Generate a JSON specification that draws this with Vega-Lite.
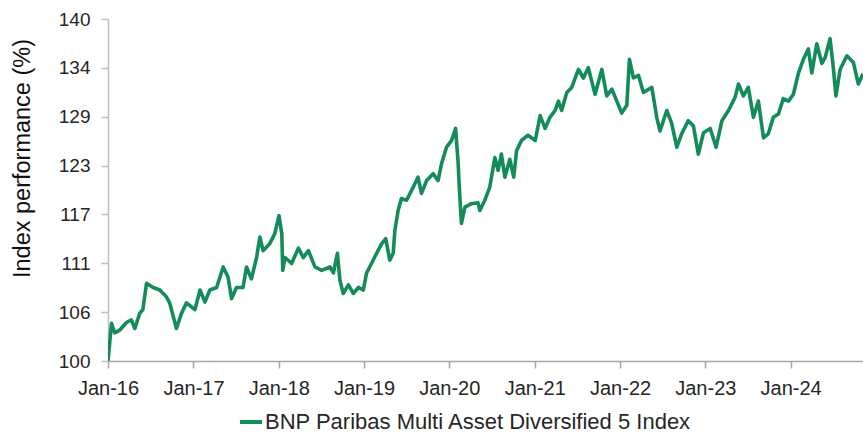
{
  "$schema": "https://vega.github.io/schema/vega-lite/v6.json",
  "width": 755,
  "height": 342,
  "autosize": {"type": "none"},
  "padding": {"left": 108, "top": 19, "right": 0, "bottom": 73},
  "background": "white",
  "config": {"view": {"stroke": null}, "font": "Liberation Sans"},
  "data": {"values": [
    {"date": "2016-01-01", "v": 100},
    {"date": "2016-01-16", "v": 104.4},
    {"date": "2016-01-30", "v": 103.3},
    {"date": "2016-02-20", "v": 103.6},
    {"date": "2016-03-20", "v": 104.5},
    {"date": "2016-04-10", "v": 104.8},
    {"date": "2016-04-25", "v": 103.8},
    {"date": "2016-05-16", "v": 105.6},
    {"date": "2016-05-29", "v": 106},
    {"date": "2016-06-14", "v": 109.1},
    {"date": "2016-07-12", "v": 108.6},
    {"date": "2016-08-10", "v": 108.3},
    {"date": "2016-09-07", "v": 107.5},
    {"date": "2016-09-21", "v": 106.8},
    {"date": "2016-10-20", "v": 103.8},
    {"date": "2016-11-11", "v": 105.6},
    {"date": "2016-12-02", "v": 106.8},
    {"date": "2017-01-07", "v": 106},
    {"date": "2017-01-29", "v": 108.3},
    {"date": "2017-02-19", "v": 106.9},
    {"date": "2017-03-12", "v": 108.3},
    {"date": "2017-04-10", "v": 108.6},
    {"date": "2017-05-08", "v": 111},
    {"date": "2017-05-29", "v": 109.8},
    {"date": "2017-06-13", "v": 107.3},
    {"date": "2017-07-04", "v": 108.6},
    {"date": "2017-08-01", "v": 108.6},
    {"date": "2017-08-16", "v": 111},
    {"date": "2017-09-06", "v": 109.6},
    {"date": "2017-09-28", "v": 112.1},
    {"date": "2017-10-12", "v": 114.5},
    {"date": "2017-10-26", "v": 112.9},
    {"date": "2017-11-23", "v": 113.7},
    {"date": "2017-12-15", "v": 114.9},
    {"date": "2018-01-02", "v": 117},
    {"date": "2018-01-14", "v": 114.9},
    {"date": "2018-01-18", "v": 110.6},
    {"date": "2018-01-28", "v": 112.1},
    {"date": "2018-02-25", "v": 111.4},
    {"date": "2018-03-26", "v": 113.2},
    {"date": "2018-04-16", "v": 112.1},
    {"date": "2018-05-08", "v": 112.9},
    {"date": "2018-06-05", "v": 111},
    {"date": "2018-07-04", "v": 110.6},
    {"date": "2018-08-08", "v": 111},
    {"date": "2018-08-23", "v": 110.3},
    {"date": "2018-09-09", "v": 112.6},
    {"date": "2018-09-20", "v": 109.4},
    {"date": "2018-10-04", "v": 107.9},
    {"date": "2018-10-26", "v": 108.9},
    {"date": "2018-11-16", "v": 107.9},
    {"date": "2018-12-08", "v": 108.6},
    {"date": "2018-12-29", "v": 108.3},
    {"date": "2019-01-12", "v": 110.3},
    {"date": "2019-02-02", "v": 111.4},
    {"date": "2019-02-24", "v": 112.6},
    {"date": "2019-03-17", "v": 113.7},
    {"date": "2019-04-04", "v": 114.3},
    {"date": "2019-04-21", "v": 111.8},
    {"date": "2019-05-06", "v": 112.6},
    {"date": "2019-05-13", "v": 115.3},
    {"date": "2019-05-27", "v": 117.6},
    {"date": "2019-06-10", "v": 119},
    {"date": "2019-07-02", "v": 118.8},
    {"date": "2019-07-30", "v": 120.3},
    {"date": "2019-08-20", "v": 121.5},
    {"date": "2019-09-04", "v": 119.6},
    {"date": "2019-09-26", "v": 121.1},
    {"date": "2019-10-24", "v": 121.9},
    {"date": "2019-11-14", "v": 121.1},
    {"date": "2019-11-29", "v": 123.1},
    {"date": "2019-12-20", "v": 125},
    {"date": "2020-01-11", "v": 125.8},
    {"date": "2020-01-28", "v": 127.2},
    {"date": "2020-02-08", "v": 123.1},
    {"date": "2020-02-12", "v": 120.7},
    {"date": "2020-02-22", "v": 116.1},
    {"date": "2020-03-08", "v": 118},
    {"date": "2020-04-05", "v": 118.4},
    {"date": "2020-05-03", "v": 118.5},
    {"date": "2020-05-11", "v": 117.6},
    {"date": "2020-06-01", "v": 118.8},
    {"date": "2020-06-22", "v": 120.3},
    {"date": "2020-07-14", "v": 123.8},
    {"date": "2020-07-28", "v": 122.3},
    {"date": "2020-08-11", "v": 124.2},
    {"date": "2020-08-26", "v": 121.5},
    {"date": "2020-09-16", "v": 123.6},
    {"date": "2020-10-03", "v": 121.5},
    {"date": "2020-10-15", "v": 124.6},
    {"date": "2020-11-05", "v": 125.8},
    {"date": "2020-12-03", "v": 126.4},
    {"date": "2021-01-03", "v": 125.8},
    {"date": "2021-01-24", "v": 128.7},
    {"date": "2021-02-14", "v": 127.2},
    {"date": "2021-03-07", "v": 128.5},
    {"date": "2021-03-29", "v": 129.3},
    {"date": "2021-04-12", "v": 130.4},
    {"date": "2021-04-26", "v": 129.3},
    {"date": "2021-05-18", "v": 131.4},
    {"date": "2021-06-08", "v": 132},
    {"date": "2021-07-07", "v": 134.1},
    {"date": "2021-07-28", "v": 133.1},
    {"date": "2021-08-18", "v": 134.3},
    {"date": "2021-09-16", "v": 131.2},
    {"date": "2021-10-15", "v": 134.1},
    {"date": "2021-11-05", "v": 131},
    {"date": "2021-11-27", "v": 131.8},
    {"date": "2021-12-18", "v": 130.4},
    {"date": "2022-01-08", "v": 129},
    {"date": "2022-01-30", "v": 129.9},
    {"date": "2022-02-10", "v": 135.3},
    {"date": "2022-02-27", "v": 133.1},
    {"date": "2022-03-21", "v": 133.4},
    {"date": "2022-04-11", "v": 131.4},
    {"date": "2022-05-17", "v": 132},
    {"date": "2022-06-07", "v": 128.5},
    {"date": "2022-06-21", "v": 126.9},
    {"date": "2022-07-20", "v": 129.3},
    {"date": "2022-08-10", "v": 127.8},
    {"date": "2022-09-01", "v": 125},
    {"date": "2022-09-22", "v": 126.6},
    {"date": "2022-10-20", "v": 128.1},
    {"date": "2022-11-11", "v": 127.5},
    {"date": "2022-12-02", "v": 124.2},
    {"date": "2022-12-24", "v": 126.7},
    {"date": "2023-01-22", "v": 127.2},
    {"date": "2023-02-16", "v": 125},
    {"date": "2023-03-13", "v": 128.1},
    {"date": "2023-04-10", "v": 129.3},
    {"date": "2023-05-08", "v": 130.8},
    {"date": "2023-05-23", "v": 132.4},
    {"date": "2023-06-13", "v": 131},
    {"date": "2023-07-04", "v": 132},
    {"date": "2023-07-26", "v": 128.5},
    {"date": "2023-08-16", "v": 130.4},
    {"date": "2023-09-07", "v": 126.1},
    {"date": "2023-09-28", "v": 126.6},
    {"date": "2023-10-19", "v": 128.5},
    {"date": "2023-11-10", "v": 128.9},
    {"date": "2023-12-01", "v": 130.7},
    {"date": "2023-12-23", "v": 130.4},
    {"date": "2024-01-13", "v": 131.2},
    {"date": "2024-02-03", "v": 133.6},
    {"date": "2024-02-25", "v": 135.3},
    {"date": "2024-03-17", "v": 136.5},
    {"date": "2024-04-01", "v": 133.7},
    {"date": "2024-04-22", "v": 137.1},
    {"date": "2024-05-14", "v": 134.8},
    {"date": "2024-05-28", "v": 135.5},
    {"date": "2024-06-18", "v": 137.7},
    {"date": "2024-07-02", "v": 134.3},
    {"date": "2024-07-13", "v": 131},
    {"date": "2024-07-31", "v": 134.1},
    {"date": "2024-08-29", "v": 135.7},
    {"date": "2024-09-26", "v": 134.9},
    {"date": "2024-10-17", "v": 132.4},
    {"date": "2024-11-06", "v": 133.6}
  ]},
  "mark": {"type": "line", "strokeWidth": 3.6, "strokeJoin": "round", "clip": true},
  "encoding": {
    "x": {
      "field": "date", "type": "temporal",
      "scale": {"type": "utc", "domain": [{"year": 2016, "month": 1, "date": 1, "utc": true}, {"year": 2024, "month": 11, "date": 6, "utc": true}]},
      "axis": {
        "title": null,
        "values": [
          {"year": 2016, "month": 1, "date": 1, "utc": true},
          {"year": 2017, "month": 1, "date": 1, "utc": true},
          {"year": 2018, "month": 1, "date": 1, "utc": true},
          {"year": 2019, "month": 1, "date": 1, "utc": true},
          {"year": 2020, "month": 1, "date": 1, "utc": true},
          {"year": 2021, "month": 1, "date": 1, "utc": true},
          {"year": 2022, "month": 1, "date": 1, "utc": true},
          {"year": 2023, "month": 1, "date": 1, "utc": true},
          {"year": 2024, "month": 1, "date": 1, "utc": true}
        ],
        "labelExpr": "utcFormat(datum.value, '%b-%y')",
        "grid": false,
        "domainColor": "#a6a6a6", "domainWidth": 1.5,
        "tickColor": "#a6a6a6", "tickSize": 7, "tickWidth": 1.5,
        "labelFontSize": 20, "labelColor": "#262626", "labelPadding": 10,
        "labelFlush": false, "labelOverlap": false
      }
    },
    "y": {
      "field": "v", "type": "quantitative",
      "scale": {"domain": [100, 140], "nice": false, "zero": false},
      "axis": {
        "title": "Index performance (%)",
        "values": [100, 105.714, 111.429, 117.143, 122.857, 128.571, 134.286, 140],
        "format": ".0f",
        "grid": false,
        "domainColor": "#bfbfbf", "domainWidth": 1.5,
        "tickColor": "#bfbfbf", "tickSize": 7, "tickWidth": 1.5,
        "labelFontSize": 19, "labelColor": "#262626", "labelPadding": 11,
        "labelFlush": false, "labelOverlap": false,
        "titleFontSize": 23.5, "titleFontWeight": "normal", "titleColor": "#111111",
        "titleX": -86, "titleY": 139, "titleAngle": -90,
        "titleAlign": "center", "titleBaseline": "middle"
      }
    },
    "color": {
      "datum": "BNP Paribas Multi Asset Diversified 5 Index",
      "type": "nominal",
      "scale": {"range": ["#138c5a"]},
      "legend": {
        "title": null,
        "orient": "none", "legendX": 130, "legendY": 390,
        "symbolType": "stroke", "symbolStrokeWidth": 4, "symbolSize": 484,
        "labelFontSize": 22, "labelColor": "#262626", "labelLimit": 700,
        "labelOffset": 1, "padding": 0
      }
    }
  }
}
